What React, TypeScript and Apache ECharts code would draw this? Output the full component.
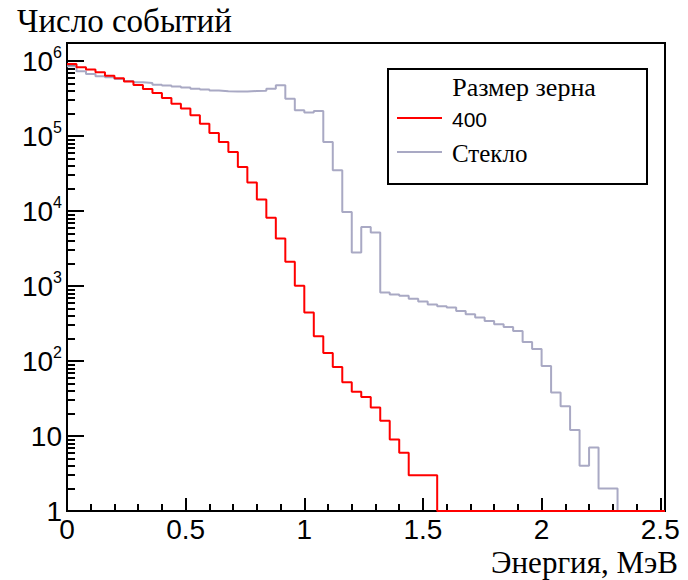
import React, { useEffect, useRef } from 'react';
import * as echarts from 'echarts';

// ---- data ----
const binWidth = 0.04; // MeV per bin, bins start at 0
const red400 = [
  912000, 824000, 768000, 706000, 638000, 588000, 531000, 479000, 424000, 374000,
  320000, 270000, 232000, 189000, 146000, 110000, 83000, 61000, 38600, 24000,
  14200, 8100, 4300, 2100, 1010, 442, 213, 128, 83, 52,
  39, 33, 24, 16, 9, 6, 3, 3, 3, 0,
  0, 0, 0, 0, 0, 0, 0, 0, 0, 0,
  0, 0, 0, 0, 0, 0, 0, 0, 0, 0,
  0, 0, 0,
];
const glass = [
  850000, 729000, 671000, 625000, 607000, 575000, 541000, 520000, 509000, 484000,
  470000, 458000, 442000, 428000, 416000, 403000, 395000, 391000, 391000, 398000,
  400000, 428000, 474000, 315000, 220000, 205000, 215000, 83000, 34900, 9700,
  2790, 6120, 5150, 817, 768, 740, 675, 620, 565, 536,
  515, 464, 420, 379, 341, 308, 284, 251, 179, 145,
  86, 38, 25, 12, 4, 7, 2, 2, 0, 0,
  0, 0, 0,
];
const seriesNames = ['400', 'Стекло'];
const legendTitle = 'Размер зерна';
const xTitle = 'Энергия, МэВ';
const yTitle = 'Число событий';
const xMajorTicks = [0, 0.5, 1, 1.5, 2, 2.5];
const xMinorTicks = [
  0.1, 0.2, 0.3, 0.4, 0.6, 0.7, 0.8, 0.9, 1.1, 1.2, 1.3, 1.4,
  1.6, 1.7, 1.8, 1.9, 2.1, 2.2, 2.3, 2.4,
];
const yMajorTicks = [1, 10, 100, 1000, 10000, 100000, 1000000];
const yMinorTicks = [
  2, 3, 4, 5, 6, 7, 8, 9,
  20, 30, 40, 50, 60, 70, 80, 90,
  200, 300, 400, 500, 600, 700, 800, 900,
  2000, 3000, 4000, 5000, 6000, 7000, 8000, 9000,
  20000, 30000, 40000, 50000, 60000, 70000, 80000, 90000,
  200000, 300000, 400000, 500000, 600000, 700000, 800000, 900000,
];
const xMin = 0;
const xMax = 2.52;
const yMin = 1;
const yMax = 1738000;

const SANS = '"Liberation Sans", Arial, sans-serif';
const SERIF = '"Liberation Serif", "Times New Roman", serif';

function steps(values: number[]): number[][] {
  const pts: number[][] = [];
  values.forEach((v, i) => {
    const y = v > 0 ? v : yMin;
    pts.push([i * binWidth, y], [(i + 1) * binWidth, y]);
  });
  return pts;
}

export default function App() {
  const ref = useRef<HTMLDivElement>(null);
  useEffect(() => {
    if (!ref.current) return;
    const chart = echarts.init(ref.current, undefined, { renderer: 'svg' });
    const black = '#000';
    const gray = '#a9a9c4';
    const red = '#ff0000';
    const option: any = {
      animation: false,
      grid: {
        left: 67, right: 23, top: 43, bottom: 69,
        show: true, borderColor: black, borderWidth: 2, backgroundColor: 'transparent',
      },
      xAxis: [
        {
          type: 'value', min: xMin, max: xMax, position: 'bottom',
          axisLine: { onZero: false, lineStyle: { color: black, width: 2 } },
          axisTick: { inside: true, length: 13, customValues: xMajorTicks, lineStyle: { color: black, width: 2 } },
          axisLabel: {
            customValues: xMajorTicks, formatter: (v: number) => String(v),
            color: black, fontSize: 28, fontFamily: SANS, margin: 4,
          },
          splitLine: { show: false },
        },
        {
          type: 'value', min: xMin, max: xMax, position: 'bottom',
          axisLine: { show: false, onZero: false },
          axisTick: { inside: true, length: 7, customValues: xMinorTicks, lineStyle: { color: black, width: 2 } },
          axisLabel: { show: false },
          splitLine: { show: false },
        },
      ],
      yAxis: [
        {
          type: 'log', logBase: 10, min: yMin, max: yMax, position: 'left',
          axisLine: { lineStyle: { color: black, width: 2 } },
          axisTick: { inside: true, length: 17, customValues: yMajorTicks, lineStyle: { color: black, width: 2 } },
          axisLabel: {
            customValues: yMajorTicks,
            formatter: (v: number) => {
              const e = Math.round(Math.log10(v));
              if (e === 0) return '{b|1}';
              if (e === 1) return '{b|10}';
              return '{b|10}{s|' + e + '}';
            },
            color: black, fontSize: 28, fontFamily: SANS, margin: 5,
            rich: {
              b: { fontSize: 28, fontFamily: SANS, color: black, lineHeight: 34 },
              s: { fontSize: 16, fontFamily: SANS, color: black, lineHeight: 14, verticalAlign: 'top' },
            },
          },
          splitLine: { show: false },
        },
        {
          type: 'log', logBase: 10, min: yMin, max: yMax, position: 'left',
          axisLine: { show: false },
          axisTick: { inside: true, length: 8, customValues: yMinorTicks, lineStyle: { color: black, width: 2 } },
          axisLabel: { show: false },
          splitLine: { show: false },
        },
      ],
      series: [
        {
          name: seriesNames[1], type: 'line', xAxisIndex: 0, yAxisIndex: 0,
          data: steps(glass), showSymbol: false, symbol: 'none',
          lineStyle: { color: gray, width: 2 }, clip: true, z: 3,
        },
        {
          name: seriesNames[0], type: 'line', xAxisIndex: 0, yAxisIndex: 0,
          data: steps(red400), showSymbol: false, symbol: 'none',
          lineStyle: { color: red, width: 2 }, clip: true, z: 4,
        },
      ],
      graphic: [
        {
          type: 'text', x: 17, y: 21, z: 50,
          style: { text: yTitle, fill: black, font: '33px ' + SERIF, fontSize: 33, fontFamily: SERIF,
            textAlign: 'left', align: 'left', textVerticalAlign: 'middle', verticalAlign: 'middle' },
        },
        {
          type: 'text', x: 678, y: 578, z: 50,
          style: { text: xTitle, fill: black, font: '31px ' + SERIF, fontSize: 31, fontFamily: SERIF,
            textAlign: 'right', align: 'right', textVerticalAlign: 'bottom', verticalAlign: 'bottom' },
        },
        {
          type: 'rect', z: 100,
          shape: { x: 388, y: 69, width: 259, height: 115 },
          style: { fill: '#fff', stroke: black, lineWidth: 2 },
        },
        {
          type: 'text', x: 524, y: 87, z: 101,
          style: { text: legendTitle, fill: black, font: '26px ' + SERIF, fontSize: 26, fontFamily: SERIF,
            textAlign: 'center', align: 'center', textVerticalAlign: 'middle', verticalAlign: 'middle' },
        },
        {
          type: 'line', z: 101,
          shape: { x1: 397, y1: 118, x2: 442, y2: 118 },
          style: { stroke: red, lineWidth: 2 },
        },
        {
          type: 'text', x: 452, y: 119, z: 101,
          style: { text: seriesNames[0], fill: black, font: '21px ' + SANS, fontSize: 21, fontFamily: SANS,
            textAlign: 'left', align: 'left', textVerticalAlign: 'middle', verticalAlign: 'middle' },
        },
        {
          type: 'line', z: 101,
          shape: { x1: 397, y1: 152, x2: 442, y2: 152 },
          style: { stroke: gray, lineWidth: 2 },
        },
        {
          type: 'text', x: 452, y: 153, z: 101,
          style: { text: seriesNames[1], fill: black, font: '25px ' + SERIF, fontSize: 25, fontFamily: SERIF,
            textAlign: 'left', align: 'left', textVerticalAlign: 'middle', verticalAlign: 'middle' },
        },
      ],
    };
    chart.setOption(option);
    return () => chart.dispose();
  }, []);
  return (
    <div
      ref={ref}
      style={{ position: 'fixed', left: 0, top: 0, width: 688, height: 580, background: '#fff' }}
    />
  );
}
